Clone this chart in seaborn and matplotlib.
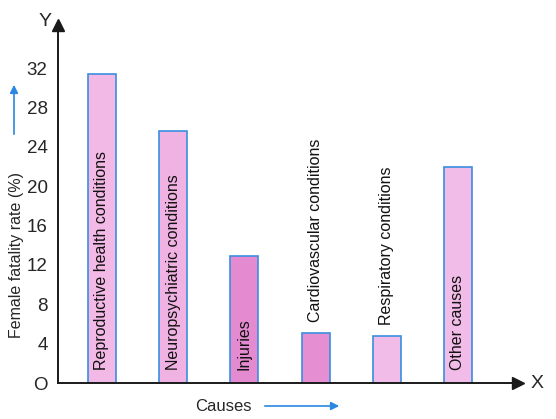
import matplotlib
matplotlib.use("Agg")
import matplotlib.pyplot as plt
import seaborn as sns
import pandas as pd

causes = ["Reproductive health conditions", "Neuropsychiatric conditions", "Injuries",
          "Cardiovascular conditions", "Respiratory conditions", "Other causes"]
rates = [31.4, 25.6, 12.9, 5.1, 4.8, 22.0]
bar_colors = ["#f2b8e6", "#f0b2e2", "#e48ad0", "#e68ed2", "#f2bce8", "#f2bce8"]
yticks = [0, 4, 8, 12, 16, 20, 24, 28, 32]
ytick_labels = ["O", "4", "8", "12", "16", "20", "24", "28", "32"]

sns.set_style("white")
plt.rcParams["font.family"] = ["Liberation Sans", "DejaVu Sans"]

df = pd.DataFrame({"cause": causes, "rate": rates})

fig = plt.figure(figsize=(5.56, 4.19), dpi=100)
ax = fig.add_axes([58 / 556, 36 / 419, 460 / 556, 358 / 419])

sns.barplot(data=df, x="cause", y="rate", hue="cause", palette=bar_colors,
            legend=False, width=0.393, edgecolor="#3a8ee0", linewidth=1.2,
            saturation=1, ax=ax)

ax.set_xlim(-0.618, 5.843)
ax.set_ylim(0, 36.4)
ax.set_xticks([])
ax.set_yticks(yticks)
ax.set_yticklabels(ytick_labels, fontsize=13.5)
ax.tick_params(axis="y", direction="inout", length=5, width=1.2, color="#2a90e0", pad=5)
ax.set_xlabel("")
ax.set_ylabel("")

for s in ["top", "right"]:
    ax.spines[s].set_visible(False)
for s in ["left", "bottom"]:
    ax.spines[s].set_color("#1a1a1a")
    ax.spines[s].set_linewidth(1.4)

# axis arrows
ax.plot(0, 1, marker="^", markersize=8, color="#1a1a1a", transform=ax.transAxes, clip_on=False)
ax.plot(1, 0, marker=">", markersize=8, color="#1a1a1a", transform=ax.transAxes, clip_on=False)

# labels of bars
for i, (name, v) in enumerate(zip(causes, rates)):
    y = 1.3 if v > 10 else v + 1.1
    ax.text(i, y, name, rotation=90, ha="center", va="bottom", fontsize=11.5, color="#111111")

# axis letters
fig.text(45 / 556, 1 - 22 / 419, "Y", fontsize=14, ha="center", va="center")
fig.text(537 / 556, 1 - 383 / 419, "X", fontsize=14, ha="center", va="center")

# y label and arrow
fig.text(17 / 556, 1 - 255 / 419, "Female fatality rate (%)", rotation=90,
         fontsize=11.5, ha="center", va="center")
fig.add_artist(matplotlib.patches.FancyArrowPatch(
    (14 / 556, 1 - 137 / 419), (14 / 556, 1 - 82 / 419), transform=fig.transFigure,
    arrowstyle="-|>", mutation_scale=12, color="#2a88e0", linewidth=1.2))

# x label and arrow
fig.text(223 / 556, 1 - 406 / 419, "Causes", fontsize=12, ha="center", va="center")
fig.add_artist(matplotlib.patches.FancyArrowPatch(
    (262 / 556, 1 - 406 / 419), (342 / 556, 1 - 406 / 419), transform=fig.transFigure,
    arrowstyle="-|>", mutation_scale=12, color="#2a88e0", linewidth=1.2))

fig.savefig("out.png", dpi=100)
